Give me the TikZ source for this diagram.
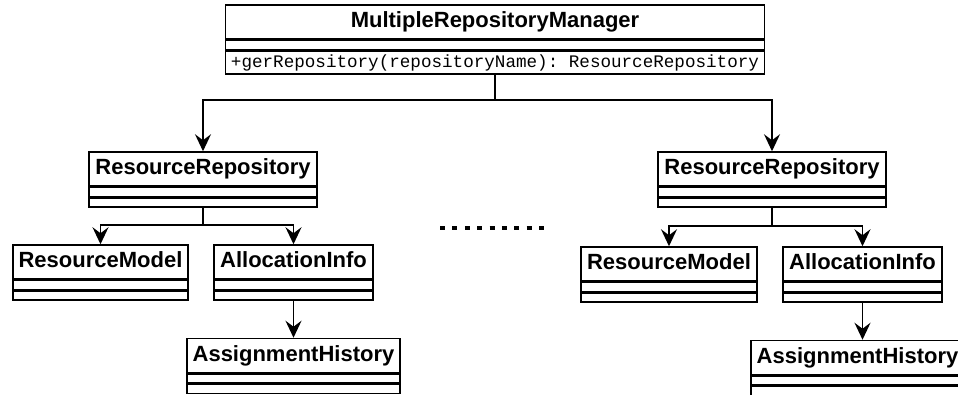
\documentclass[tikz,border=0pt]{standalone}
\usepackage{fontspec}
\setmainfont{Liberation Sans}
\setmonofont{Liberation Mono}
\usepackage{tikz}
\usetikzlibrary{arrows.meta, positioning}

\begin{document}
\begin{tikzpicture}[x=1pt, y=-1pt,
  classname/.style ={draw, rectangle, inner sep=1pt, minimum height=34pt,
    font=\fontsize{22}{24}\selectfont\bfseries,
    text height=16pt, text depth=4.5pt},
  %
  compart/.style ={draw, rectangle, inner sep=0pt, minimum height=9pt},
  %
  link/.style ={arrows={-Stealth[length=17pt, width=16pt, inset=6pt]}} ]

  \useasboundingbox (0,0) rectangle (958,394);
  \clip (0,0) rectangle (958,394);

  \tikzset{every path/.style={line width=1.5pt}}

  \begin{scope}
    %%%%%%%%%%%%%%%%%%%%%%%%%%%%%%% manager
    \node [classname, minimum width=539pt] (mgr)
      at (495,22) {MultipleRepositoryManager};
    \node [compart, minimum width=539pt, below=0pt of mgr] (mgrattr) {};
    \node [compart, minimum width=539pt, minimum height=23pt,
      font=\fontsize{17.6}{19}\selectfont\ttfamily, below=0pt of mgrattr]
      (mgrops) {+gerRepository(repositoryName): ResourceRepository};
    %%%%%%%%%%%%%%%%%%%%%%%%%%%%%%% left repository
    \node [classname, minimum width=228pt] (repoA) at (203,169)
      {ResourceRepository};
    \node [compart, minimum width=228pt, below=0pt of repoA] (repoAattr) {};
    \node [compart, minimum width=228pt, below=0pt of repoAattr] (repoAops) {};
    %
    \node [classname, minimum width=175pt] (modelA) at (100.5,262)
      {ResourceModel};
    \node [compart, minimum width=175pt, below=0pt of modelA] (modelAattr) {};
    \node [compart, minimum width=175pt, below=0pt of modelAattr] (modelAops) {};
    %
    \node [classname, minimum width=159pt] (allocA) at (293.5,262)
      {AllocationInfo};
    \node [compart, minimum width=159pt, below=0pt of allocA] (allocAattr) {};
    \node [compart, minimum width=159pt, below=0pt of allocAattr] (allocAops) {};
    %
    \node [classname, minimum width=213pt] (histA) at (293.5,355.5)
      {AssignmentHistory};
    \node [compart, minimum width=213pt, below=0pt of histA] (histAattr) {};
    \node [compart, minimum width=213pt, below=0pt of histAattr] (histAops) {};
    %%%%%%%%%%%%%%%%%%%%%%%%%%%%%%% right repository
    \node [classname, minimum width=228pt] (repoB) at (772,169)
      {ResourceRepository};
    \node [compart, minimum width=228pt, below=0pt of repoB] (repoBattr) {};
    \node [compart, minimum width=228pt, below=0pt of repoBattr] (repoBops) {};
    %
    \node [classname, minimum width=176pt] (modelB) at (669,264)
      {ResourceModel};
    \node [compart, minimum width=176pt, below=0pt of modelB] (modelBattr) {};
    \node [compart, minimum width=176pt, below=0pt of modelBattr] (modelBops) {};
    %
    \node [classname, minimum width=159pt] (allocB) at (862.5,264)
      {AllocationInfo};
    \node [compart, minimum width=159pt, below=0pt of allocB] (allocBattr) {};
    \node [compart, minimum width=159pt, below=0pt of allocBattr] (allocBops) {};
    %
    \node [classname, minimum width=213pt] (histB) at (857.5,357.5)
      {AssignmentHistory};
    \node [compart, minimum width=213pt, below=0pt of histB] (histBattr) {};
    \node [compart, minimum width=213pt, below=0pt of histBattr] (histBops) {};
  \end{scope}

  \begin{scope}
    \coordinate (split) at (495,100);
    \coordinate (splitA) at (203,225);
    \coordinate (splitB) at (772,226);
    \draw (mgrops.south) -- (split);
    \draw [link] (split) -| (repoA.north);
    \draw [link] (split) -| (repoB.north);
    %
    \draw (repoAops.south) -- (splitA);
    \draw [link] (splitA) -| (modelA.north);
    \draw [link] (splitA) -| (allocA.north);
    \draw [link] (allocAops.south) -- (histA.north);
    %
    \draw (repoBops.south) -- (splitB);
    \draw [link] (splitB) -| (modelB.north);
    \draw [link] (splitB) -| (allocB.north);
    \draw [link] (allocBops.south) -- (allocBops.south |- histB.north);
    % dots between the two repositories
    \coordinate (dotsL) at (440,228);
    \coordinate (dotsR) at (544,228);
    \draw [line width=4.5pt, dash pattern=on 5pt off 7.375pt] (dotsL) -- (dotsR);
  \end{scope}

\end{tikzpicture}
\end{document}
